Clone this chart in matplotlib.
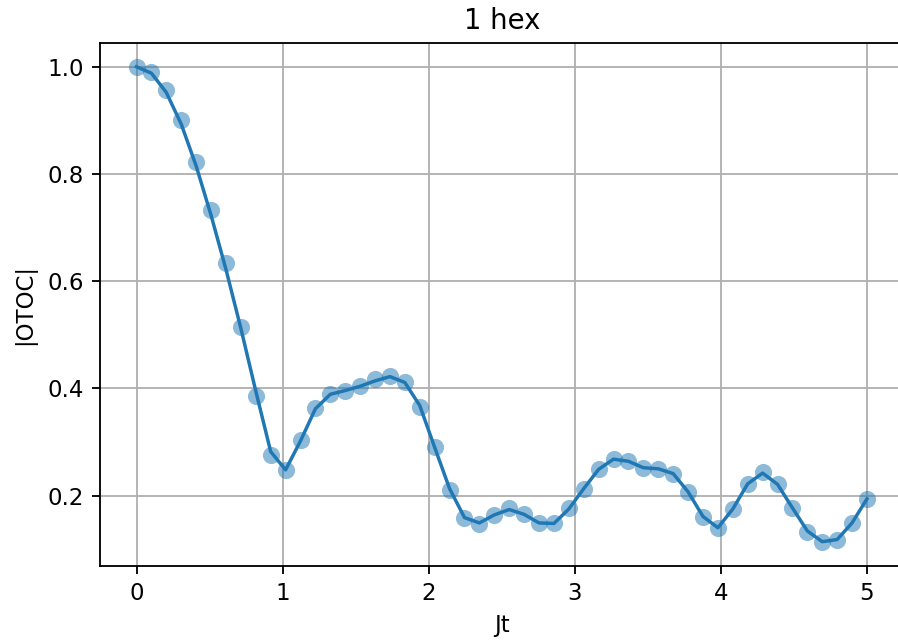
import numpy as np
import matplotlib
matplotlib.use("Agg")
import matplotlib.pyplot as plt

# --- data ---
jt = np.linspace(0, 5, 50)

# measured |OTOC| (scatter points)
otoc_points = [1.000, 0.990, 0.956, 0.900, 0.823, 0.733, 0.633, 0.515, 0.386, 0.275,
               0.247, 0.303, 0.363, 0.389, 0.396, 0.404, 0.417, 0.424, 0.411, 0.365,
               0.290, 0.211, 0.159, 0.147, 0.163, 0.176, 0.166, 0.149, 0.148, 0.176,
               0.213, 0.249, 0.269, 0.264, 0.252, 0.250, 0.241, 0.207, 0.160, 0.140,
               0.175, 0.222, 0.244, 0.221, 0.177, 0.133, 0.113, 0.118, 0.149, 0.194]

# reference curve (line)
otoc_line = [1.000, 0.988, 0.952, 0.893, 0.815, 0.723, 0.622, 0.512, 0.395, 0.282,
             0.248, 0.302, 0.362, 0.389, 0.396, 0.404, 0.414, 0.422, 0.411, 0.368,
             0.290, 0.213, 0.159, 0.149, 0.164, 0.174, 0.165, 0.149, 0.148, 0.175,
             0.213, 0.249, 0.268, 0.264, 0.252, 0.250, 0.241, 0.207, 0.161, 0.140,
             0.175, 0.222, 0.242, 0.221, 0.177, 0.134, 0.114, 0.118, 0.149, 0.194]

# --- plot ---
dpi = 165
W, H = 898, 643
fig = plt.figure(figsize=(W / dpi, H / dpi), dpi=dpi)
# axes runs a little past the right edge, like the cropped original
ax = fig.add_axes([100 / W, (H - 566) / H, 803.5 / W, 523 / H])

ax.scatter(jt, otoc_points, s=56, alpha=0.5, linewidths=0)
ax.plot(jt, otoc_line)

ax.set_title("1 hex")
ax.set_xlabel("Jt")
ax.set_ylabel("|OTOC|", labelpad=5)
ax.grid(True)
ax.set_axisbelow(True)

plt.savefig("out.png", dpi=dpi)
plt.close(fig)
